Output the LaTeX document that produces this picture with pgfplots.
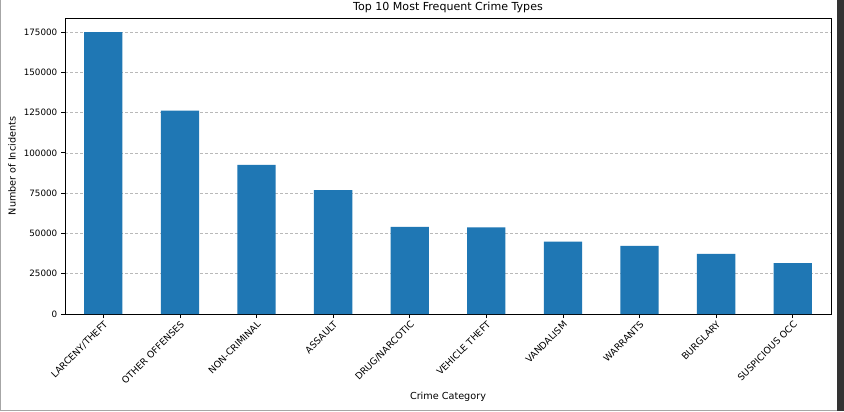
\documentclass[border=0pt]{standalone}
\usepackage{fontspec}
\setmainfont{DejaVu Sans}
\usepackage{pgfplots}
\pgfplotsset{compat=1.18}
\definecolor{barblue}{HTML}{1F77B4}
\newcommand{\yl}[1]{\mbox{\fontsize{8.8}{11}\selectfont\rmfamily #1}}
\begin{document}
\begin{tikzpicture}[x=1bp,y=1bp]
\useasboundingbox (0,0) rectangle (844,411);
\fill[white] (0,0) rectangle (844,411);
\begin{axis}[
  at={(65bp,97bp)}, anchor=south west,
  scale only axis, width=766bp, height=296bp,
  xmin=-0.5, xmax=9.5, ymin=0, ymax=183700,
  ybar, bar width=0.5,
  xtick=data,
  xticklabels={LARCENY/THEFT,OTHER OFFENSES,NON-CRIMINAL,ASSAULT,DRUG/NARCOTIC,VEHICLE THEFT,VANDALISM,WARRANTS,BURGLARY,SUSPICIOUS OCC},
  xticklabel style={rotate=45, anchor=north east, inner sep=1.5bp, font=\fontsize{9.3}{11}\selectfont},
  scaled y ticks=false,
  ytick={0,25000,50000,75000,100000,125000,150000,175000},
  yticklabels={\yl{0},\yl{25000},\yl{50000},\yl{75000},\yl{100000},\yl{125000},\yl{150000},\yl{175000}},
  yticklabel style={inner sep=3.5bp},
  tick align=outside, xtick pos=bottom, ytick pos=left,
  major tick length=4bp,
  tick style={black, line width=0.8bp},
  axis line style={line width=0.8bp},
  ymajorgrids, xmajorgrids=false,
  major grid style={gray!55, dash pattern=on 2.5bp off 2.5bp, line width=0.6bp},
  title={Top 10 Most Frequent Crime Types},
  title style={at={(axis description cs:0.5,1.014)}, anchor=center, font=\fontsize{11.1}{13}\selectfont},
  xlabel={Crime Category},
  xlabel style={at={(axis description cs:0.5,-0.2804)}, anchor=center, font=\fontsize{9.7}{11}\selectfont},
  ylabel={Number of Incidents},
  ylabel style={at={(axis description cs:-0.0692,0.5)}, anchor=center, font=\fontsize{9.7}{11}\selectfont},
]
\addplot[fill=barblue, draw=none] coordinates {
  (0,174900) (1,126200) (2,92600) (3,76900) (4,54100)
  (5,53700) (6,44950) (7,42270) (8,37300) (9,31500)
};
\end{axis}
\fill[gray!70] (0,0) rectangle (1.2,411);
\fill[gray!70] (0,0) rectangle (844,1.2);
\fill[black!80] (837.3,0) rectangle (844,411);
\end{tikzpicture}
\end{document}
